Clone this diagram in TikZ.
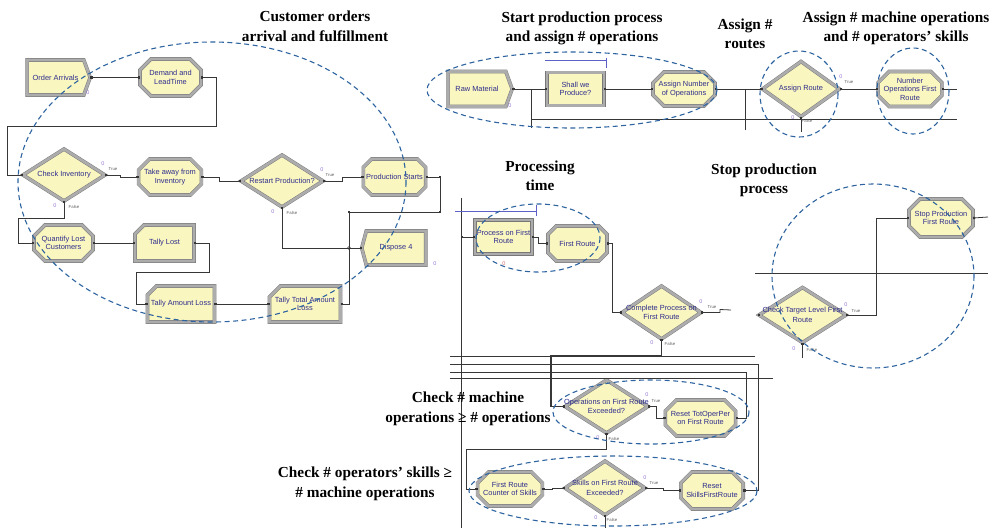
\documentclass[tikz,border=0pt]{standalone}
\usepackage{fontspec}
\setmainfont{Liberation Serif}
\newfontfamily\arenafont{Liberation Sans}
\usetikzlibrary{shapes.geometric,shapes.misc,shapes.symbols,arrows.meta}

\definecolor{boxfill}{RGB}{250,246,192}
\definecolor{rimdark}{RGB}{120,120,120}
\definecolor{rimlight}{RGB}{172,172,172}
\definecolor{labelblue}{RGB}{45,45,140}
\definecolor{wirecol}{RGB}{55,55,55}
\definecolor{groupblue}{RGB}{45,100,160}
\definecolor{queueblue}{RGB}{95,95,200}
\definecolor{counterpurple}{RGB}{150,120,210}
\definecolor{counterred}{RGB}{215,110,110}
\definecolor{tagtext}{RGB}{95,95,95}

\tikzset{
  module/.style={fill=boxfill, draw=rimdark, double=rimlight, double distance=2.7pt,
    line width=0.45pt, text=labelblue, font=\arenafont\fontsize{7.4}{8.6}\selectfont,
    align=center, inner sep=0pt, outer sep=0pt},
  sz/.style 2 args={minimum width=#1pt, minimum height=#2pt},
  assignbox/.style={module, chamfered rectangle, chamfered rectangle sep=5.5pt},
  recordbox/.style={module, chamfered rectangle, chamfered rectangle corners=north west,
    chamfered rectangle sep=5.5pt},
  processbox/.style={module, rectangle},
  createbox/.style={module, signal, signal to=east, signal pointer angle=140},
  disposebox/.style={module, signal, signal to=west, signal pointer angle=150},
  decide/.style={module, diamond, aspect=1.5},
  dlabel/.style={text=labelblue, font=\arenafont\fontsize{7.4}{9.6}\selectfont,
    align=center, inner sep=0pt},
  wire/.style={draw=wirecol, line width=0.8pt},
  conn/.style={wire, {Square[length=2.2pt,width=2.2pt]}-{Square[length=2.2pt,width=2.2pt]}},
  lead/.style={wire, {Square[length=2.2pt,width=2.2pt]}-},
  queue/.style={draw=queueblue, line width=0.8pt},
  group/.style={draw=groupblue, line width=1.1pt, dash pattern=on 5pt off 3.5pt},
  counter/.style={text=counterpurple, font=\arenafont\fontsize{5.5}{6}\selectfont, inner sep=0pt},
  tag/.style={text=tagtext, font=\arenafont\fontsize{4.3}{5}\selectfont, inner sep=0pt},
  title/.style={font=\bfseries\fontsize{15.3}{19.5}\selectfont, align=center, inner sep=0pt},
}

\begin{document}
\begin{tikzpicture}[x=1pt,y=-1pt]
\useasboundingbox (0,0) rectangle (997,528);

% ---------------- customer orders ----------------
\node[createbox, sz={63}{35}] (oa) at (55.5,77.5) {Order Arrivals};
\node[assignbox, sz={61}{37}] (dl) at (170.5,77.5) {Demand and\\LeadTime};
\node[decide, sz={82}{52}, label={[dlabel]center:Check Inventory}] (ci) at (64,175) {};
\node[assignbox, sz={60}{36}] (ta) at (170,177) {Take away from\\Inventory};
\node[decide, sz={82}{52}, label={[dlabel]center:Restart Production?}] (rp) at (282,181) {};
\node[assignbox, sz={59}{36}] (ps) at (394.5,177) {Production Starts};
\node[assignbox, sz={59}{36}] (ql) at (63.5,243) {Quantify Lost\\Customers};
\node[recordbox, sz={59}{36}] (tl) at (164.5,243) {Tally Lost};
\node[recordbox, sz={60}{36}] (tal) at (181,304) {Tally Amount Loss};
\node[recordbox, sz={60}{36}] (tta) at (305,304) {Tally Total Amount\\Loss};
\node[disposebox, sz={64}{34}] (d4) at (396,248) {Dispose 4};

% ---------------- start of production ----------------
\node[createbox, sz={64}{35}] (rm) at (477,89) {Raw Material};
\node[processbox, sz={57}{33}] (sp) at (575.5,89) {Shall we\\Produce?};
\node[assignbox, sz={62}{34}] (an) at (684,89) {Assign Number\\of Operations};
\node[decide, sz={77}{55}, label={[dlabel]center:Assign Route}] (ar) at (801,89) {};
\node[assignbox, sz={60}{35}] (no) at (910,89) {Number\\Operations First\\Route};

% ---------------- first route ----------------
\node[processbox, sz={57}{34}] (pf) at (503.5,237) {Process on First\\Route};
\node[assignbox, sz={59}{35}] (fr) at (577.5,243.5) {First Route};
\node[decide, sz={79}{53}, label={[dlabel]center:{Complete Process on\\First Route}}] (cp) at (661.5,312.5) {};
\node[decide, sz={87}{55}, label={[dlabel]center:{Check Target Level First\\Route}}] (ct) at (802.5,315) {};
\node[assignbox, sz={64}{38}] (st) at (941,218) {Stop Production\\First Route};
\node[decide, sz={83}{53}, label={[dlabel]center:{Operations on First Route\\Exceeded?}}] (oe) at (606.5,406.5) {};
\node[assignbox, sz={61}{36}] (rt) at (700.5,418) {Reset TotOperPer\\on First Route};
\node[assignbox, sz={60}{34}] (cs) at (510,489) {First Route\\Counter of Skills};
\node[decide, sz={80}{54}, label={[dlabel]center:{Skills on First Route\\Exceeded?}}] (se) at (605,488) {};
\node[assignbox, sz={58}{37}] (rs) at (712,490.5) {Reset\\SkillsFirstRoute};

% free ends of connectors
\coordinate (rawBusTop) at (531,89);
\coordinate (rawBusEnd) at (531,128);
\coordinate (topBusEnd) at (957,119);
\coordinate (routeBusTop) at (745,89);
\coordinate (routeBusEnd) at (745,130);
\coordinate (noOut) at (957,89);
\coordinate (arFalseEnd) at (801,132);
\coordinate (mainBusTop) at (461,198);
\coordinate (mainBusEnd) at (461,528);
\coordinate (busA) at (450,356);
\coordinate (busAEnd) at (755,356);
\coordinate (busB) at (450,364);
\coordinate (busC) at (450,372);
\coordinate (busD) at (450,378);
\coordinate (busDEnd) at (773,378);
\coordinate (stopBus) at (755,273);
\coordinate (stopBusEnd) at (988,273);
\coordinate (stopIn) at (988,217);
\coordinate (cpTrueEnd) at (731,310);
\coordinate (ctFalseEnd) at (802.5,358);
\coordinate (seFalseEnd) at (605,528);

% ---------------- connectors: customer orders ----------------
\draw[conn] (oa.east) -- (dl.west);
\draw[conn] (dl.east) -| (216,126) -| (7,175) -- (ci.west);
\draw[conn] (ci.east) -- ++(15,0) |- (ta.west);
\draw[conn] (ta.east) -- ++(18,0) |- (rp.west);
\draw[conn] (rp.east) -- ++(19,0) |- (ps.west);
\draw[conn] (ps.east) -| (440,212) -| (349,248) -- (d4.west);
\draw[conn] (rp.south) |- (d4.west);
\draw[lead] (tta.east) -| (349,248);
\draw[conn] (ci.south) |- (18,218) |- (ql.west);
\draw[conn] (ql.east) -- (tl.west);
\draw[conn] (tl.east) -| (209,272) -| (136,304) -- (tal.west);
\draw[conn] (tal.east) -- (tta.west);
\foreach \p in {(440,177),(440,212),(349,212)}
  \fill[wirecol] \p ++(-1.2,-1.2) rectangle ++(2.4,2.4);
\draw[wirecol, line width=0.6pt] (349,248) circle (1.5);

% ---------------- connectors: production start ----------------
\draw[conn] (rm.east) -- (sp.west);
\draw[wire] (rawBusTop) -- (rawBusEnd);
\draw[wire] (531,119) -- (topBusEnd);
\draw[conn] (sp.east) -- (an.west);
\draw[conn] (an.east) -- (ar.west);
\draw[wire] (routeBusTop) -- (routeBusEnd);
\draw[conn] (ar.east) -- (no.west);
\draw[lead] (no.east) -- (noOut);
\draw[lead] (ar.south) -- (arFalseEnd);
\draw[queue] (545,60) -- (606,60) (606,57.5) -- (606,68);

% ---------------- connectors: first route ----------------
\draw[wire] (mainBusTop) -- (mainBusEnd);
\draw[conn] (461,237) -- (pf.west);
\draw[queue] (455,211) -- (536,211) (536,205) -- (536,216);
\draw[conn] (pf.east) -- ++(6,0) |- (fr.west);
\draw[conn] (fr.east) -- ++(5,0) |- (cp.west);
\draw[lead] (cp.east) -- ++(19,0) -- ++(0,-3) -- (cpTrueEnd);
\draw[wire] (busA) -- (busAEnd);
\draw[conn, line width=1.2pt] (cp.south) |- (551,356) |- (oe.west);
\draw[lead] (rs.east) -| (758,364) -- (busB);
\draw[lead] (rt.east) -| (746,372) -- (busC);
\draw[wire] (busD) -- (busDEnd);
\draw[conn] (oe.east) -- ++(8,0) |- (rt.west);
\draw[conn] (oe.south) |- (466,449) |- (cs.west);
\draw[conn] (cs.east) -- ++(10,0) |- (se.west);
\draw[conn] (se.east) -- ++(18,0) |- (rs.west);
\draw[lead] (se.south) -- (seFalseEnd);
\draw[conn] (ct.east) -- ++(30,0) |- (st.west);
\draw[wire, -{Square[length=2.2pt,width=2.2pt]}] (stopIn) -- (st.east);
\draw[wire] (stopBus) -- (stopBusEnd);
\draw[lead] (ct.south) -- (ctFalseEnd);
\fill[wirecol] (ct.west) ++(-1.2,-1.2) rectangle ++(2.4,2.4);

% ---------------- entity counters and branch tags ----------------
\node[counter] (k1) at (88,93) {0};
\node[counter] (k2) at (103,164) {0};   \node[tag] (g1) at (113,169) {True};
\node[counter] (k3) at (55,206) {0};    \node[tag] (g2) at (74,207) {False};
\node[counter] (k4) at (322,170) {0};   \node[tag] (g3) at (330,175) {True};
\node[counter] (k5) at (273,212) {0};   \node[tag] (g4) at (292,213) {False};
\node[counter] (k6) at (435,264) {0};
\node[counter] (k7) at (510,106) {0};
\node[counter] (k8) at (841,77) {0};    \node[tag] (g5) at (849,82) {True};
\node[counter] (k9) at (793,118) {0};   \node[tag] (g6) at (807,121) {False};
\node[counter, text=counterred] (k10) at (504,264) {0};
\node[counter] (k11) at (701,302) {0};  \node[tag] (g7) at (712,307) {True};
\node[counter] (k12) at (652,343) {0};  \node[tag] (g8) at (670,344) {False};
\node[counter] (k13) at (846,305) {0};  \node[tag] (g9) at (856,311) {True};
\node[counter] (k14) at (794,349) {0};  \node[tag] (g10) at (812,350) {False};
\node[counter] (k15) at (647,395) {0};  \node[tag] (g11) at (656,401) {True};
\node[counter] (k16) at (598,438) {0};  \node[tag] (g12) at (614,439) {False};
\node[counter] (k17) at (645,478) {0};  \node[tag] (g13) at (654,483) {True};
\node[counter] (k18) at (596,518) {0};  \node[tag] (g14) at (612,520) {False};

% ---------------- dashed groupings ----------------
\draw[group] (212,182) ellipse [x radius=194, y radius=140];
\draw[group] (572,90) ellipse [x radius=145, y radius=38];
\draw[group] (799,94) ellipse [x radius=39, y radius=43];
\draw[group] (913,91) ellipse [x radius=36, y radius=43];
\draw[group] (538,238) ellipse [x radius=62, y radius=34];
\draw[group] (873,276) ellipse [x radius=101, y radius=92];
\draw[group] (651,412) ellipse [x radius=98, y radius=32];
\draw[group] (613,491) ellipse [x radius=144, y radius=35];

% ---------------- headings ----------------
\node[title] (h1) at (315,26.5) {Customer orders\\arrival and fulfillment};
\node[title] (h2) at (582,28.5) {Start production process\\and assign \# operations};
\node[title] (h3) at (745,34) {Assign \#\\routes};
\node[title] (h4) at (896,28.5) {Assign \# machine operations\\and \# operators’ skills};
\node[title] (h5) at (540,176) {Processing\\time};
\node[title] (h6) at (764,180.5) {Stop production\\process};
\node[title] (h7) at (468,409) {Check \# machine\\operations ≥ \# operations};
\node[title] (h8) at (365,484) {Check \# operators’ skills ≥\\\# machine operations};
\end{tikzpicture}
\end{document}
